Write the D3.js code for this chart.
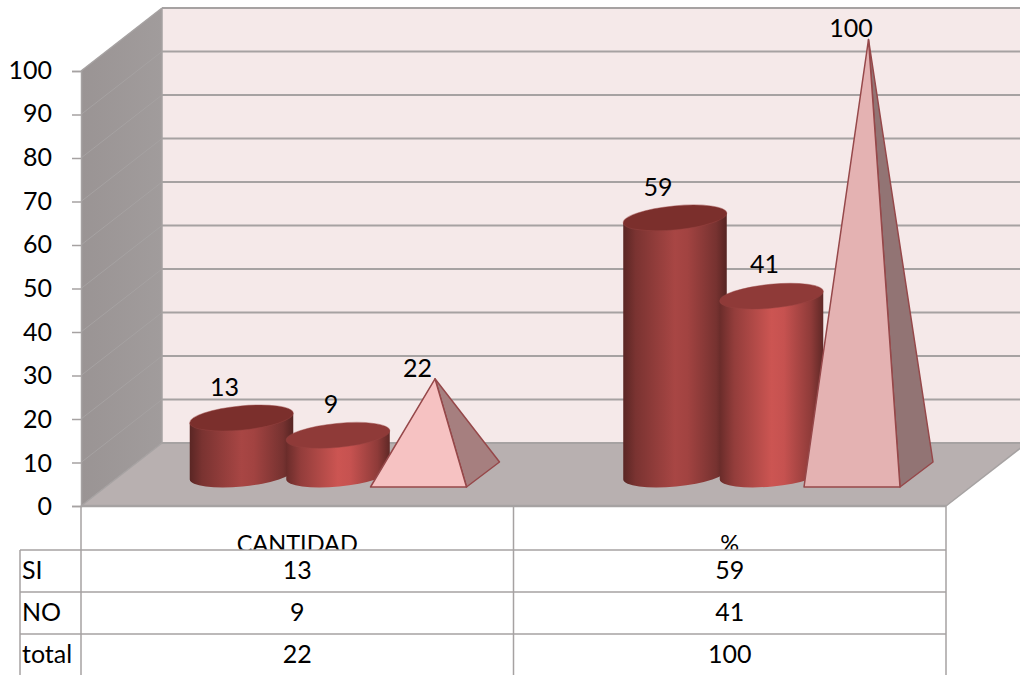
<!DOCTYPE html>
<html><head><meta charset="utf-8">
<script src="https://cdn.jsdelivr.net/npm/d3@7"></script>
<style>html,body{margin:0;padding:0;background:#fff;overflow:hidden}svg{display:block}text{font-family:Lato,"Noto Sans",sans-serif;font-size:25px;fill:#000}</style>
</head><body><svg id="c" width="1020" height="675"></svg>
<script>
const categories = ["CANTIDAD", "%"];
const seriesNames = ["SI", "NO", "total"];
const siValues = [13, 59];
const noValues = [9, 41];
const totalValues = [22, 100];
const yTicks = [0,10,20,30,40,50,60,70,80,90,100];

const svg = d3.select("#c");
const defs = svg.append("defs");
const W = 1020;
const y = d3.scaleLinear().domain([0,100]).range([506,71]);
const xTable = d3.scaleBand().domain(categories).range([81,946]);
const xMark = d3.scaleBand().domain(categories).range([81,948]);
const xSeries = d3.scalePoint().domain(seriesNames).range([160.5,353.5]);
const depth = {x:81, y:-63};
const grid = "#a6a2a2";

function gradient(id, stops){
  const g = defs.append("linearGradient").attr("id",id).attr("x1",0).attr("x2",1).attr("y1",0).attr("y2",0);
  stops.forEach(s=>g.append("stop").attr("offset",s[0]).attr("stop-color",s[1]));
}
gradient("cylSI",[[0,"#5a2624"],[0.12,"#7a3331"],[0.5,"#a84644"],[0.62,"#a24341"],[0.9,"#763230"],[1,"#552422"]]);
gradient("cylNO",[[0,"#6a2c2a"],[0.14,"#933d3b"],[0.5,"#cc5552"],[0.62,"#c65250"],[0.88,"#8f3b39"],[1,"#5f2826"]]);
gradient("wall",[[0,"#9a9494"],[1,"#a19c9c"]]);

const line = d3.line();
// walls and floor
svg.append("path").attr("fill","#f5e9e9")
  .attr("d",line([[81+depth.x,y(100)+depth.y],[W,y(100)+depth.y],[W,y(0)+depth.y],[81+depth.x,y(0)+depth.y]])+"Z");
svg.append("path").attr("fill","url(#wall)")
  .attr("d",line([[81,y(0)],[81+depth.x,y(0)+depth.y],[81+depth.x,y(100)+depth.y],[81,y(100)]])+"Z");
svg.append("path").attr("fill","#b8b0b0")
  .attr("d",line([[81,y(0)],[946,y(0)],[946+depth.x,y(0)+depth.y],[81+depth.x,y(0)+depth.y]])+"Z");

// gridlines
yTicks.forEach(t=>{
  svg.append("line").attr("x1",81+depth.x).attr("x2",W).attr("y1",y(t)+depth.y).attr("y2",y(t)+depth.y)
    .attr("stroke",grid).attr("stroke-width",2);
  svg.append("line").attr("x1",81).attr("x2",81+depth.x).attr("y1",y(t)).attr("y2",y(t)+depth.y)
    .attr("stroke",grid).attr("stroke-width",t===0||t===100?1.5:1);
});
svg.append("line").attr("x1",81+depth.x).attr("x2",81+depth.x).attr("y1",y(100)+depth.y).attr("y2",y(0)+depth.y).attr("stroke",grid).attr("stroke-width",1.5);
svg.append("line").attr("x1",946).attr("x2",946+depth.x).attr("y1",y(0)).attr("y2",y(0)+depth.y).attr("stroke",grid).attr("stroke-width",1.5);
svg.append("line").attr("x1",81).attr("x2",946).attr("y1",y(0)).attr("y2",y(0)).attr("stroke",grid).attr("stroke-width",2.5);

// axis
const axis = d3.axisLeft(y).tickValues(yTicks).tickSize(9).tickPadding(20);
const ax = svg.append("g").attr("transform","translate(81,0)").call(axis);
ax.select(".domain").attr("stroke",grid).attr("stroke-width",1.5);
ax.selectAll(".tick line").attr("stroke",grid).attr("stroke-width",1.5);
ax.selectAll(".tick text").attr("x",-29).attr("dy",d=>(0.35-d*0.0007)+"em").attr("text-anchor","end").style("font-family",'Lato,"Noto Sans",sans-serif').style("font-size","25px");

// cylinders
const rx = 52, ry = 12, tilt = -5.5;
const a = rx*Math.cos(tilt*Math.PI/180), b = -rx*Math.sin(tilt*Math.PI/180);
const planeCyl = -31.5, planePyr = -31.5;
function cylinder(v, cat, ser, fill, topFill){
  const cx = xMark(cat)+xSeries(ser), top = y(v)+planeCyl, base = y(0)+planeCyl;
  svg.append("path").attr("fill",`url(#${fill})`)
    .attr("d",`M${cx-a},${top+b}L${cx-a},${base+b}A${rx},${ry} ${tilt} 0 0 ${cx+a},${base-b}L${cx+a},${top-b}Z`);
  svg.append("ellipse").attr("cx",0).attr("cy",0).attr("rx",rx).attr("ry",ry)
    .attr("transform",`translate(${cx},${top}) rotate(${tilt})`)
    .attr("fill",topFill).attr("stroke","#9a4443").attr("stroke-opacity",.45).attr("stroke-width",1);
}
function pyramid(v, cat, ser, front, side){
  const cx = xMark(cat)+xSeries(ser)+0.5, base = y(0)+planePyr, apex=[cx,y(v)+planePyr];
  const fl=[cx-64.5,base+12.5], fr=[cx+31.5,base+12.5], br=[cx+64.5,base-12.5];
  svg.append("path").attr("d",line([apex,fr,br])+"Z").attr("fill",side).attr("stroke","#96484a").attr("stroke-width",1.5).attr("stroke-linejoin","round");
  svg.append("path").attr("d",line([apex,fl,fr])+"Z").attr("fill",front).attr("stroke","#96484a").attr("stroke-width",1.5).attr("stroke-linejoin","round");
}
const labels = [];
categories.forEach((c,i)=>{
  cylinder(siValues[i],c,"SI","cylSI","#7b2f2c");
  cylinder(noValues[i],c,"NO","cylNO","#8f3a38");
  pyramid(totalValues[i],c,"total",i===0?"#f6c2c2":"#e4b2b2",i===0?"#a67f7f":"#927474");
  labels.push([siValues[i],xMark(c)+xSeries("SI")-17,y(siValues[i])+planeCyl-30.5]);
  labels.push([noValues[i],xMark(c)+xSeries("NO")-7,y(noValues[i])+planeCyl-31.5]);
  labels.push([totalValues[i],xMark(c)+xSeries("total")-17,y(totalValues[i])+planePyr-11]);
});
svg.append("g").selectAll("text").data(labels).join("text")
  .attr("x",d=>d[1]).attr("y",d=>d[2]).attr("dy",".35em").attr("text-anchor","middle").text(d=>d[0]);

// data table
const rowY = d3.scalePoint().domain(seriesNames).range([570,654]);
const rowTop = 550, rowH = 42, bottom = 675, xLeft = 20;
svg.append("clipPath").attr("id","hdr").append("rect").attr("x",81).attr("y",510).attr("width",865).attr("height",rowTop-510);
categories.forEach(c=>{
  svg.append("text").attr("clip-path","url(#hdr)").attr("x",xTable(c)+xTable.bandwidth()/2).attr("y",rowTop+2)
    .attr("text-anchor","middle").style("font-size","23.5px").text(c);
});
seriesNames.forEach((s,r)=>{
  svg.append("line").attr("x1",xLeft).attr("x2",946).attr("y1",rowTop+r*rowH).attr("y2",rowTop+r*rowH).attr("stroke",grid).attr("stroke-width",1.5);
  svg.append("text").attr("x",xLeft+2).attr("y",rowY(s)).attr("dy",".35em").text(s);
  const vals = [siValues,noValues,totalValues][r];
  categories.forEach((c,i)=>{
    svg.append("text").attr("x",xTable(c)+xTable.bandwidth()/2).attr("y",rowY(s)).attr("dy",".35em").attr("text-anchor","middle").text(vals[i]);
  });
});
[81,xTable(categories[1]),946].forEach(x=>{
  svg.append("line").attr("x1",x).attr("x2",x).attr("y1",y(0)).attr("y2",bottom).attr("stroke",grid).attr("stroke-width",1.5);
});
svg.append("line").attr("x1",xLeft).attr("x2",xLeft).attr("y1",rowTop).attr("y2",bottom).attr("stroke",grid).attr("stroke-width",1.5);
</script></body></html>
